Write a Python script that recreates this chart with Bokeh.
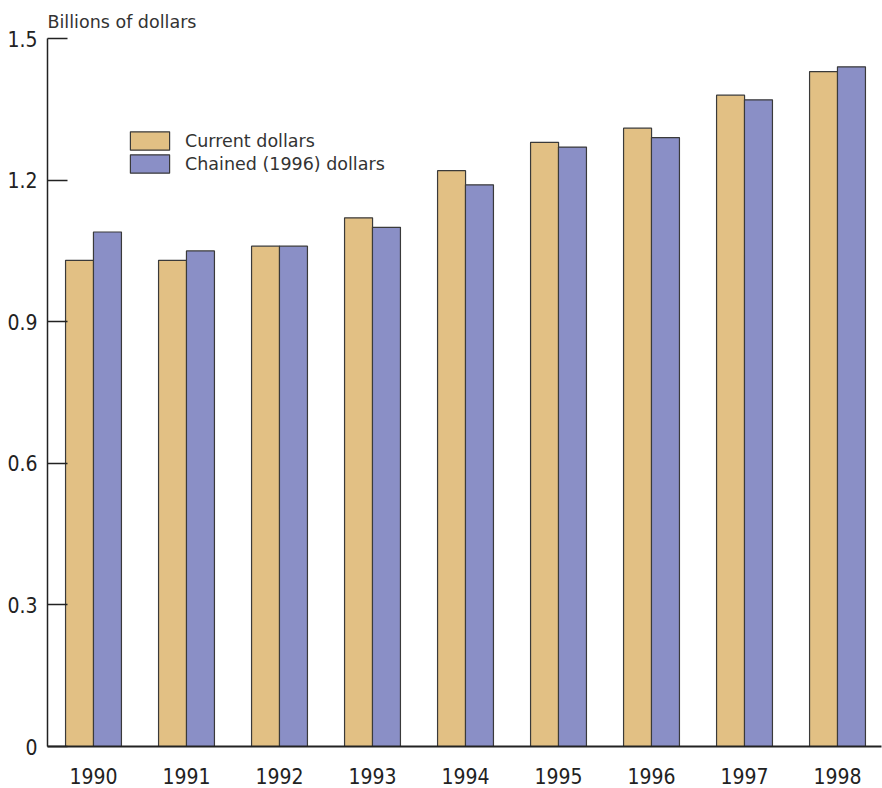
from bokeh.plotting import figure
from bokeh.models import Range1d, FixedTicker, Legend, LegendItem, ColumnDataSource
from bokeh.embed import file_html
from bokeh.resources import INLINE

years = ["1990", "1991", "1992", "1993", "1994", "1995", "1996", "1997", "1998"]
current = [1.03, 1.03, 1.06, 1.12, 1.22, 1.28, 1.31, 1.38, 1.43]
chained = [1.09, 1.05, 1.06, 1.10, 1.19, 1.27, 1.29, 1.37, 1.44]
y_ticks = [0, 0.3, 0.6, 0.9, 1.2, 1.5]
y_labels = ["0", "0.3", "0.6", "0.9", "1.2", "1.5"]

idx = list(range(len(years)))
src = ColumnDataSource(dict(
    xc=[i - 0.15 for i in idx],
    xk=[i + 0.15 for i in idx],
    current=current,
    chained=chained,
))

TICK_FONT = "'DejaVu Sans Condensed', 'Open Sans', sans-serif"

p = figure(frame_width=834, frame_height=708, output_backend="svg", toolbar_location=None,
           x_range=Range1d(-0.4946, 8.473), y_range=Range1d(0, 1.5),
           min_border_left=47, min_border_right=1, min_border_top=38, min_border_bottom=42,
           title="Billions of dollars")
p.title.text_font = "DejaVu Sans"
p.title.text_font_size = "17.5px"
p.title.text_font_style = "normal"
p.title.text_color = "#333333"
p.title.offset = 0
p.title.standoff = 14

r1 = p.vbar(x="xc", top="current", width=0.301, source=src,
            fill_color="#E2C084", line_color="#3a3a3a", line_width=1.2)
r2 = p.vbar(x="xk", top="chained", width=0.301, source=src,
            fill_color="#8A8FC6", line_color="#3a3a3a", line_width=1.2)

p.xgrid.visible = False
p.ygrid.visible = False
p.outline_line_color = None
p.background_fill_color = "white"
p.border_fill_color = "white"

# y axis
yax = p.yaxis[0]
yax.ticker = FixedTicker(ticks=y_ticks)
yax.major_label_overrides = {t: l for t, l in zip(y_ticks, y_labels)}
yax.major_tick_in = 20
yax.major_tick_out = 0
yax.minor_tick_line_color = None
yax.major_tick_line_color = "#222222"
yax.major_tick_line_width = 1.5
yax.axis_line_color = "#222222"
yax.axis_line_width = 1.5
yax.major_label_standoff = 10
yax.major_label_text_font = TICK_FONT
yax.major_label_text_font_size = "21px"
yax.major_label_text_color = "#222222"

# x axis
xax = p.xaxis[0]
xax.ticker = FixedTicker(ticks=idx)
xax.major_label_overrides = {i: y for i, y in zip(idx, years)}
xax.major_tick_line_color = None
xax.minor_tick_line_color = None
xax.axis_line_color = "#222222"
xax.axis_line_width = 2
xax.major_label_standoff = 15
xax.major_label_text_font = TICK_FONT
xax.major_label_text_font_size = "21px"
xax.major_label_text_color = "#222222"

legend = Legend(items=[LegendItem(label="Current dollars", renderers=[r1]),
                       LegendItem(label="Chained (1996) dollars", renderers=[r2])],
                location=(78, 571), glyph_width=49, glyph_height=23, spacing=0,
                padding=0, margin=0, border_line_color=None, background_fill_alpha=0,
                label_text_font="DejaVu Sans", label_text_font_size="17.5px",
                label_text_color="#333333", label_standoff=11, label_height=23)
p.add_layout(legend, "center")

open("out.html", "w").write(file_html(p, INLINE))
